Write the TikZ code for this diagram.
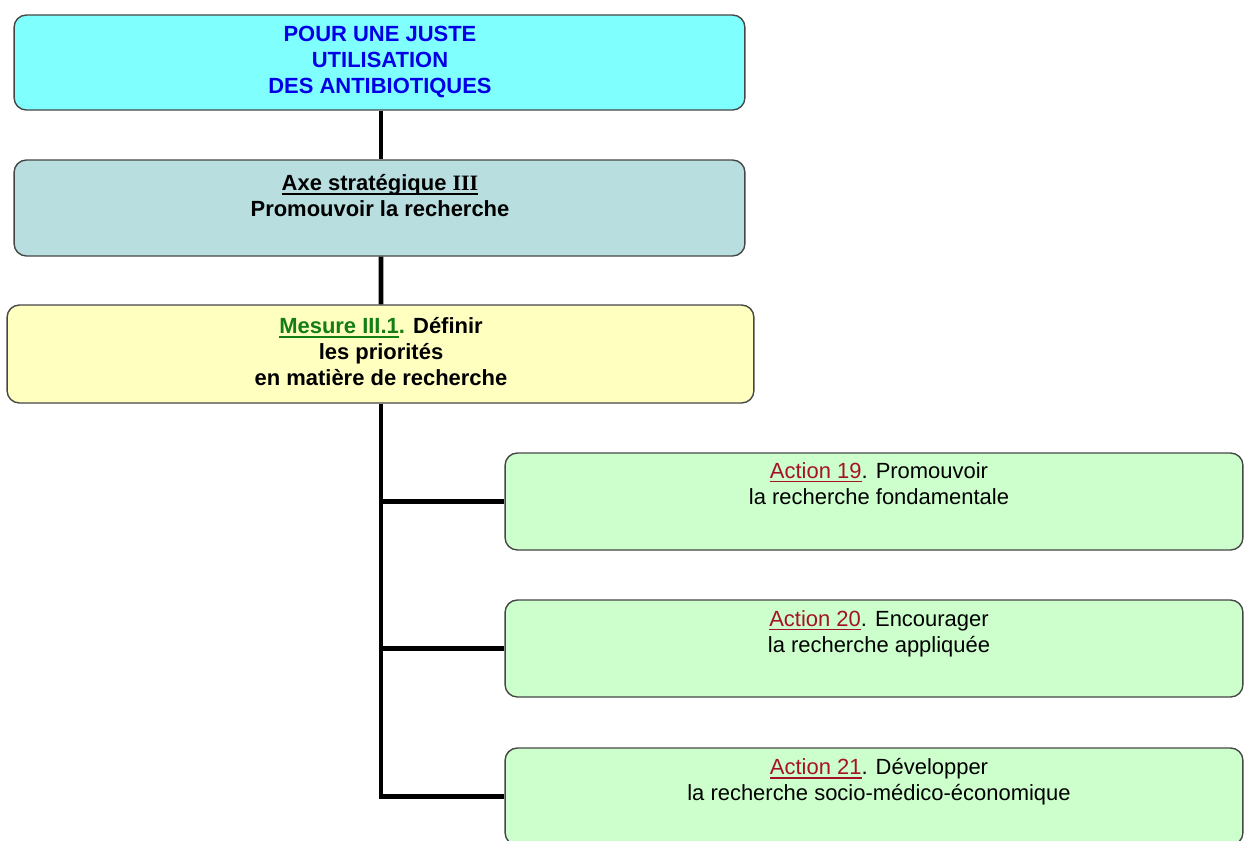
\documentclass[tikz,border=0pt]{standalone}
\usepackage{fontspec}
\setmainfont{Liberation Sans}
\newfontfamily\romain{Liberation Serif}
\newcommand\souligne[1]{\setbox0\hbox{#1}\leavevmode\rlap{\rule[-2.4pt]{\wd0}{1.1pt}}\box0}
\definecolor{Cyan}{RGB}{128,255,255}
\definecolor{Axe}{RGB}{184,222,224}
\definecolor{Jaune}{RGB}{255,255,192}
\definecolor{Vert}{RGB}{204,255,204}
\definecolor{Bleu}{RGB}{0,0,230}
\definecolor{VertF}{RGB}{20,125,20}
\definecolor{Rouge}{RGB}{165,18,40}
\definecolor{Bord}{RGB}{70,70,70}
\tikzset{
  boite/.style={draw=Bord, line width=0.8pt, rounded corners=7pt, inner sep=0pt},
  texte/.style={anchor=north, align=center, inner sep=0pt, font=\fontsize{12.5}{14.8}\selectfont},
  lien/.style={line width=2.8pt}
}

\begin{document}
\begin{tikzpicture}[x=0.02cm, y=-0.02cm]
   \useasboundingbox (0,0) rectangle (1245,840);

   % Titre
   \node[boite, fill=Cyan, minimum width=14.62cm, minimum height=1.9cm] (titre) at (379.5,62.5) {};
   \node[texte, text=Bleu, font=\fontsize{12.5}{14.8}\selectfont\bfseries] (ttitre) at (380,26)
      {POUR UNE JUSTE\\UTILISATION\\DES ANTIBIOTIQUES};

   % Axe strategique
   \node[boite, fill=Axe, minimum width=14.62cm, minimum height=1.92cm] (axe) at (379.5,208) {};
   \node[texte, font=\fontsize{12.5}{14.8}\selectfont\bfseries] (taxe) at (380,174)
      {\souligne{Axe stratégique {\romain III}}\\Promouvoir la recherche};

   % Mesure
   \node[boite, fill=Jaune, minimum width=14.94cm, minimum height=1.96cm] (mesure) at (380.5,354) {};
   \node[texte, font=\fontsize{12.5}{14.8}\selectfont\bfseries] (tmesure) at (381,317)
      {\textcolor{VertF}{\souligne{Mesure III.1}.} Définir\\les priorités\\en matière de recherche};

   % Actions
   \node[boite, fill=Vert, minimum width=14.76cm, minimum height=1.94cm] (a19) at (874,501.5) {};
   \node[texte] (ta19) at (879,462)
      {\textcolor{Rouge}{\souligne{Action 19}}. Promouvoir\\la recherche fondamentale};

   \node[boite, fill=Vert, minimum width=14.76cm, minimum height=1.94cm] (a20) at (874,648.5) {};
   \node[texte] (ta20) at (879,610)
      {\textcolor{Rouge}{\souligne{Action 20}}. Encourager\\la recherche appliquée};

   \node[boite, fill=Vert, minimum width=14.76cm, minimum height=1.94cm] (a21) at (874,796.5) {};
   \node[texte] (ta21) at (879,758)
      {\textcolor{Rouge}{\souligne{Action 21}}. Développer\\la recherche socio-médico-économique};

   % Liens
   \draw[lien] ([xshift=0.03cm]titre.south) -- ([xshift=0.03cm]axe.north);
   \draw[lien] ([xshift=0.03cm]axe.south) -- ([xshift=0.01cm]mesure.north);
   \draw[lien] ([xshift=0.01cm]mesure.south) |- (a19.west);
   \draw[lien] ([xshift=0.01cm]mesure.south) |- (a20.west);
   \draw[lien] ([xshift=0.01cm]mesure.south) |- (a21.west);
\end{tikzpicture}
\end{document}
